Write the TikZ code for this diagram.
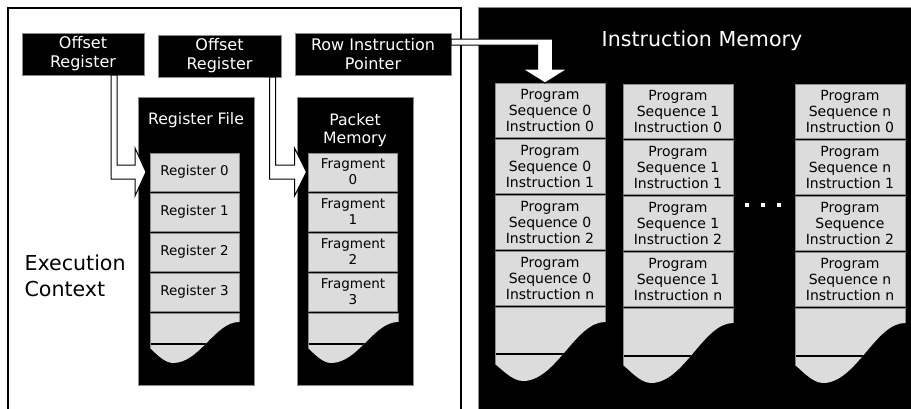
\documentclass[tikz,border=0pt]{standalone}
\usepackage{fontspec}
\setmainfont{DejaVu Sans}
\usepackage{tikz}
\usepackage{xcolor}
\usetikzlibrary{positioning, calc}

\definecolor{cellfill}{HTML}{DCDCDC}
\definecolor{boxline}{HTML}{8A8A8A}

% torn bottom cell of a memory column
% #1 left x, #2 right x, #3 top y, #4 right end of tear,
% #5 lowest x, #6 lowest y, #7 left end of tear, #8 cut line y
\newcommand{\torncell}[8]{%
  \begin{scope}
    \path[clip] (#1,#3) -- (#2,#3) -- (#2,#4)
      .. controls ({#2-0.27*(#2-#1)},#4) and ({#5+0.3*(#2-#1)},#6) .. (#5,#6)
      .. controls ({#5-0.1*(#2-#1)},#6) and ({#1+0.05*(#2-#1)},{#7+4}) .. (#1,#7) -- cycle;
    \fill[cellfill] (#1,#3) rectangle (#2,#6);
    \draw[line width=1.8pt] (#1,#8) -- (#2,#8);
  \end{scope}
  \draw[boxline, line width=0.6pt] (#1,#7) -- (#1,#3) -- (#2,#3) -- (#2,#4);
}

\begin{document}
\begin{tikzpicture}[
    x=1pt, y=-1pt,
    font=\fontsize{13.5}{16}\selectfont,
    blackbox/.style={
        rectangle,
        draw=boxline,
        fill=black,
        text=white,
        minimum height=42pt,
        inner sep=0pt,
        outer sep=0pt,
        align=center,
        font=\fontsize{16}{19}\selectfont
    },
    column/.style={
        rectangle,
        draw=boxline,
        fill=black,
        minimum width=116pt,
        minimum height=288pt,
        inner sep=0pt
    },
    coltitle/.style={
        text=white,
        align=center,
        font=\fontsize{15.7}{17.5}\selectfont
    },
    regcell/.style={
        rectangle,
        draw=boxline,
        line width=0.6pt,
        fill=cellfill,
        minimum width=89pt,
        minimum height=38pt,
        inner sep=0pt,
        outer sep=0pt,
        align=center
    },
    progcell/.style={
        regcell,
        minimum width=110pt,
        minimum height=54pt,
        font=\fontsize{14}{16}\selectfont
    },
    hollow/.style={
        draw=black,
        fill=white,
        line width=1pt,
        line join=miter
    }
]

\useasboundingbox (0,0) rectangle (911,408);
\clip (0,0) rectangle (911,408);

% the two halves
\draw[line width=2pt] (8,8) rectangle (461,430);
\filldraw[fill=black, draw=boxline] (478,7) rectangle (930,430);

\node[anchor=west, align=left, font=\fontsize{20.6}{26}\selectfont] (exec) at (21,276) {Execution\\Context};

\node[blackbox, minimum width=122pt] (offA) at (83,54) {Offset\\Register};
\node[blackbox, minimum width=123pt] (offB) at (219.5,56) {Offset\\Register};
\node[blackbox, minimum width=156pt] (rip) at (373,54) {Row Instruction\\Pointer};

% register file
\node[column] (regcol) at (196,241) {};
\node[coltitle] (regtitle) at (196,120) {Register File};
\node[regcell] (reg0) at (194.5,172) {Register 0};
\node[regcell, below=2pt of reg0] (reg1) {Register 1};
\node[regcell, below=2pt of reg1] (reg2) {Register 2};
\node[regcell, below=2pt of reg2] (reg3) {Register 3};
\torncell{150}{239}{313}{322}{173}{363}{348}{344}

% packet memory
\node[column] (pktcol) at (355,241) {};
\node[coltitle] (pkttitle) at (355,130) {Packet\\Memory};
\node[regcell] (frag0) at (353,172) {Fragment\\0};
\node[regcell, below=2pt of frag0] (frag1) {Fragment\\1};
\node[regcell, below=2pt of frag1] (frag2) {Fragment\\2};
\node[regcell, below=2pt of frag2] (frag3) {Fragment\\3};
\torncell{308}{398}{313}{322}{331}{363}{348}{344}

% instruction memory
\node[text=white, font=\fontsize{20.6}{24}\selectfont] (imtitle) at (702,41) {Instruction Memory};

\node[progcell] (pa0) at (550,110) {Program\\Sequence 0\\Instruction 0};
\node[progcell, below=2pt of pa0] (pa1) {Program\\Sequence 0\\Instruction 1};
\node[progcell, below=2pt of pa1] (pa2) {Program\\Sequence 0\\Instruction 2};
\node[progcell, below=2pt of pa2] (pa3) {Program\\Sequence 0\\Instruction n};
\torncell{495}{605}{307}{322}{523}{381}{364}{354}

\node[progcell] (pb0) at (678,111) {Program\\Sequence 1\\Instruction 0};
\node[progcell, below=2pt of pb0] (pb1) {Program\\Sequence 1\\Instruction 1};
\node[progcell, below=2pt of pb1] (pb2) {Program\\Sequence 1\\Instruction 2};
\node[progcell, below=2pt of pb2] (pb3) {Program\\Sequence 1\\Instruction n};
\torncell{623}{733}{308}{323}{651}{383}{365}{356}

\node[progcell] (pc0) at (850,111) {Program\\Sequence n\\Instruction 0};
\node[progcell, below=2pt of pc0] (pc1) {Program\\Sequence n\\Instruction 1};
\node[progcell, below=2pt of pc1] (pc2) {Program\\Sequence\\Instruction 2};
\node[progcell, below=2pt of pc2] (pc3) {Program\\Sequence n\\Instruction n};
\torncell{795}{905}{308}{323}{823}{383}{365}{356}

\fill[white] (745,203) rectangle (749,207);
\fill[white] (761,203) rectangle (765,207);
\fill[white] (777,203) rectangle (781,207);

% hollow arrows
\coordinate (stemA) at ($(offA.south)+(31,0)$);
\coordinate (tipA) at ($(reg0.west)+(-4,0)$);
\draw[hollow] let \p1=(stemA), \p2=(tipA) in
    (\x1-3pt,\y1) -- (\x1-3pt,\y2-7pt) -- (\x2-11pt,\y2-7pt) -- (\x2-11pt,\y2-24pt)
    -- (\x2,\y2) -- (\x2-11pt,\y2+24pt) -- (\x2-11pt,\y2+7pt) -- (\x1+3pt,\y2+7pt)
    -- (\x1+3pt,\y1) -- cycle;

\coordinate (stemB) at ($(offB.south)+(53,0)$);
\coordinate (tipB) at ($(frag0.west)+(-2,0)$);
\draw[hollow] let \p1=(stemB), \p2=(tipB) in
    (\x1-3pt,\y1) -- (\x1-3pt,\y2-7pt) -- (\x2-12pt,\y2-7pt) -- (\x2-12pt,\y2-24pt)
    -- (\x2,\y2) -- (\x2-12pt,\y2+24pt) -- (\x2-12pt,\y2+7pt) -- (\x1+3pt,\y2+7pt)
    -- (\x1+3pt,\y1) -- cycle;

\coordinate (ripS) at ($(rip.north east)+(0,9)$);
\coordinate (tipC) at ($(pa0.north)+(-5,0)$);
\draw[hollow] let \p1=(ripS), \p2=(tipC) in
    (\x1,\y1+3pt) -- (\x2+7.5pt,\y1+3pt) -- (\x2+7.5pt,\y2+14pt) -- (\x2+22.5pt,\y2+14pt)
    -- (\x2,\y2) -- (\x2-22.5pt,\y2+14pt) -- (\x2-7.5pt,\y2+14pt) -- (\x2-7.5pt,\y1-3pt)
    -- (\x1,\y1-3pt) -- cycle;

\end{tikzpicture}
\end{document}
